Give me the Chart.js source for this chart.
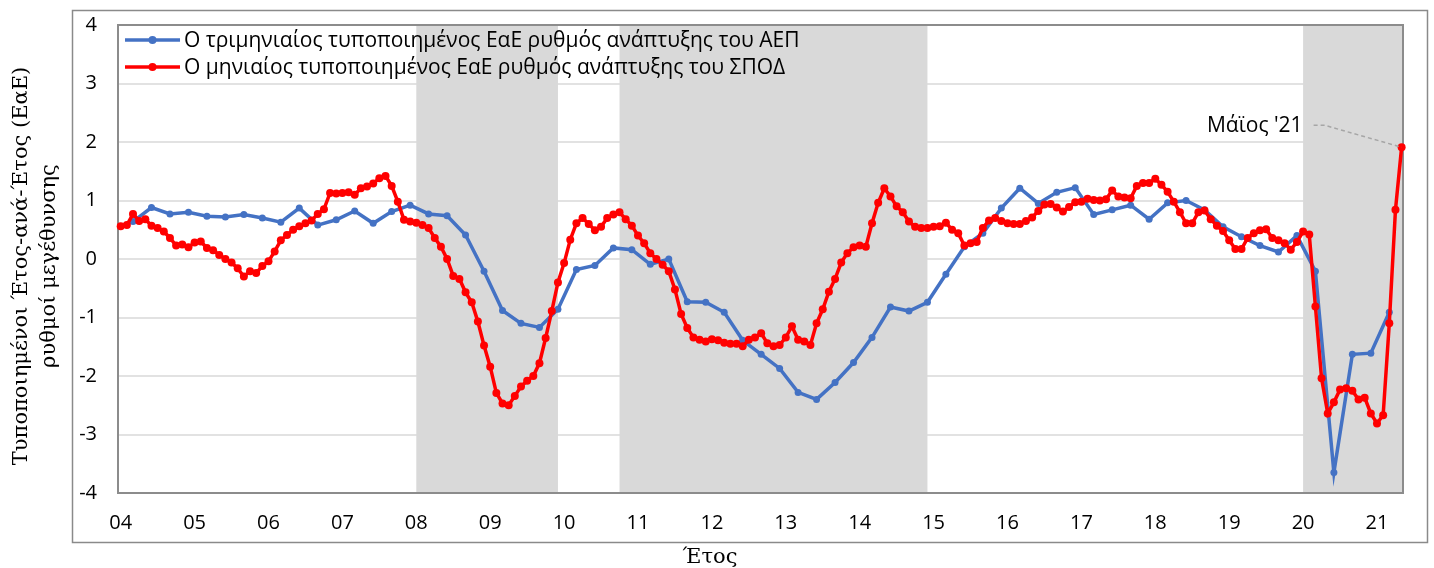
<!DOCTYPE html>
<html lang="el">
<head>
<meta charset="utf-8">
<title>Τυποποιημένοι ΕαΕ ρυθμοί μεγέθυνσης</title>
<script src="https://cdn.jsdelivr.net/npm/chart.js@4.4.1/dist/chart.umd.min.js"></script>
<style>
  html, body { margin:0; padding:0; background:#fff; }
  #wrap { width:1434px; height:568px; }
</style>
</head>
<body>
<div id="wrap"><canvas id="growthChart" width="1434" height="568"></canvas></div>
<script>
/* ── Data ── */
const FIRST_YEAR = 2004;
const YEAR_LABELS = ['04','05','06','07','08','09','10','11','12','13','14','15','16','17','18','19','20','21'];

// quarterly GDP, standardised y/y (Q1 2004 .. Q1 2021), plotted at quarter-end month
const GDP_QUARTERLY = [
  0.64, 0.88, 0.77, 0.80,   0.73, 0.72, 0.76, 0.70,   0.63, 0.87, 0.58, 0.67,
  0.82, 0.61, 0.81, 0.92,   0.77, 0.74, 0.41,-0.21,  -0.88,-1.10,-1.17,-0.86,
 -0.18,-0.11, 0.19, 0.16,  -0.09, 0.00,-0.73,-0.74,  -0.91,-1.39,-1.63,-1.87,
 -2.28,-2.40,-2.11,-1.77,  -1.34,-0.82,-0.89,-0.74,  -0.26, 0.21, 0.44, 0.87,
  1.21, 0.95, 1.14, 1.22,   0.76, 0.84, 0.92, 0.68,   0.96, 1.00, 0.84, 0.55,
  0.38, 0.23, 0.12, 0.40,  -0.21,-3.65,-1.63,-1.61,  -0.91
];

// monthly PMI, standardised y/y (Jan 2004 .. May 2021)
const PMI_MONTHLY = [
  0.56, 0.58, 0.77, 0.65, 0.68, 0.57, 0.53, 0.47, 0.36, 0.23, 0.25, 0.20,
  0.28, 0.30, 0.19, 0.15, 0.07, 0.00,-0.06,-0.16,-0.30,-0.21,-0.24,-0.12,
 -0.04, 0.13, 0.32, 0.41, 0.50, 0.56, 0.61, 0.66, 0.77, 0.85, 1.13, 1.12,
  1.13, 1.14, 1.10, 1.21, 1.24, 1.29, 1.38, 1.42, 1.25, 0.98, 0.67, 0.64,
  0.62, 0.58, 0.53, 0.36, 0.21, 0.00,-0.29,-0.34,-0.57,-0.74,-1.07,-1.48,
 -1.84,-2.29,-2.47,-2.50,-2.34,-2.18,-2.08,-2.00,-1.78,-1.35,-0.89,-0.40,
 -0.07, 0.33, 0.61, 0.70, 0.60, 0.49, 0.55, 0.70, 0.76, 0.80, 0.68, 0.57,
  0.40, 0.27, 0.10, 0.00,-0.10,-0.21,-0.52,-0.94,-1.18,-1.34,-1.38,-1.41,
 -1.37,-1.39,-1.43,-1.45,-1.45,-1.49,-1.38,-1.34,-1.27,-1.44,-1.49,-1.47,
 -1.34,-1.15,-1.38,-1.41,-1.47,-1.10,-0.86,-0.56,-0.34,-0.06, 0.10, 0.20,
  0.23, 0.21, 0.61, 0.96, 1.21, 1.07, 0.90, 0.80, 0.64, 0.55, 0.53, 0.53,
  0.55, 0.56, 0.62, 0.50, 0.44, 0.23, 0.27, 0.29, 0.53, 0.66, 0.70, 0.65,
  0.61, 0.60, 0.60, 0.65, 0.71, 0.82, 0.93, 0.94, 0.88, 0.81, 0.89, 0.97,
  0.98, 1.03, 1.01, 1.00, 1.02, 1.17, 1.07, 1.05, 1.04, 1.25, 1.30, 1.30,
  1.37, 1.27, 1.15, 0.98, 0.80, 0.61, 0.61, 0.80, 0.83, 0.68, 0.57, 0.48,
  0.32, 0.17, 0.17, 0.36, 0.44, 0.49, 0.51, 0.36, 0.32, 0.27, 0.16, 0.29,
  0.47, 0.42,-0.81,-2.04,-2.64,-2.45,-2.23,-2.21,-2.25,-2.40,-2.37,-2.64,
 -2.81,-2.67,-1.10, 0.84, 1.91
];

// shaded periods (fractional years)
const RECESSIONS = [[2008.0, 2009.917], [2010.75, 2014.917], [2020.0, 2021.5]];

const SERIES_NAMES = [
  'Ο τριμηνιαίος τυποποιημένος ΕαΕ ρυθμός ανάπτυξης του ΑΕΠ',
  'Ο μηνιαίος τυποποιημένος ΕαΕ ρυθμός ανάπτυξης του ΣΠΟΔ'
];
const LAST_LABEL = "Μάϊος '21";
const Y_TITLE = ['Τυποποιημένοι Έτος-ανά-Έτος (ΕαΕ)', 'ρυθμοί μεγέθυνσης'];
const X_TITLE = 'Έτος';

const X_MIN = 2003.9635, X_MAX = 2021.352;
const SANS = '"Open Sans", "Noto Sans", sans-serif';
const SERIF = '"DejaVu Serif", "Liberation Serif", serif';

const gdpPoints = GDP_QUARTERLY.map((v, i) => ({ x: FIRST_YEAR + (i * 3 + 2) / 12, y: v }));
const pmiPoints = PMI_MONTHLY.map((v, i) => ({ x: FIRST_YEAR + i / 12, y: v }));

/* ── Plugins ── */
const framePlugin = {
  id: 'frame',
  beforeDraw(chart) {
    const c = chart.ctx;
    c.save();
    c.fillStyle = '#fff';
    c.fillRect(0, 0, chart.width, chart.height);
    c.strokeStyle = '#8a8a8a';
    c.lineWidth = 1.5;
    c.strokeRect(72.5, 10.5, 1355, 532);
    c.restore();
  }
};

const shadingPlugin = {
  id: 'shading',
  beforeDatasetsDraw(chart) {
    const { ctx, chartArea: a, scales: { x } } = chart;
    ctx.save();
    ctx.fillStyle = '#d9d9d9';
    RECESSIONS.forEach(([s, e]) => {
      const x0 = Math.max(a.left, x.getPixelForValue(s));
      const x1 = Math.min(a.right, x.getPixelForValue(e));
      ctx.fillRect(x0, a.top, x1 - x0, a.bottom - a.top);
    });
    ctx.strokeStyle = '#8c8c8c';
    ctx.lineWidth = 2;
    ctx.strokeRect(a.left, a.top, a.right - a.left, a.bottom - a.top);
    ctx.restore();
  }
};

const overlayPlugin = {
  id: 'overlay',
  afterDraw(chart) {
    const { ctx, chartArea: a } = chart;
    ctx.save();

    // legend inside the plot
    chart.data.datasets.forEach((ds, i) => {
      const y = a.top + 15 + i * 27;
      const x0 = a.left + 7;
      ctx.strokeStyle = ds.borderColor;
      ctx.lineWidth = 3.5;
      ctx.beginPath(); ctx.moveTo(x0, y); ctx.lineTo(x0 + 55, y); ctx.stroke();
      ctx.fillStyle = ds.borderColor;
      ctx.beginPath(); ctx.arc(x0 + 27.5, y, 4, 0, Math.PI * 2); ctx.fill();
      ctx.fillStyle = '#000';
      ctx.font = '21px ' + SANS;
      ctx.textAlign = 'left';
      ctx.textBaseline = 'middle';
      ctx.fillText(ds.label, x0 + 59, y + 1);
    });

    // label for the last monthly point
    const meta = chart.getDatasetMeta(1);
    const last = meta.data[meta.data.length - 1];
    ctx.strokeStyle = '#a6a6a6';
    ctx.lineWidth = 1.5;
    ctx.setLineDash([4, 3]);
    ctx.beginPath();
    ctx.moveTo(last.x - 88, last.y - 22);
    ctx.lineTo(last.x - 77, last.y - 22);
    ctx.lineTo(last.x, last.y);
    ctx.stroke();
    ctx.setLineDash([]);
    ctx.fillStyle = '#000';
    ctx.font = '21px ' + SANS;
    ctx.textAlign = 'right';
    ctx.textBaseline = 'middle';
    ctx.fillText(LAST_LABEL, last.x - 99, last.y - 21);

    // axis titles
    ctx.font = '21px ' + SERIF;
    ctx.textAlign = 'center';
    ctx.textBaseline = 'middle';
    ctx.save();
    ctx.translate(22, 266);
    ctx.rotate(-Math.PI / 2);
    ctx.fillText(Y_TITLE[0], 0, 0);
    ctx.fillText(Y_TITLE[1], 0, 28);
    ctx.restore();
    ctx.fillText(X_TITLE, 710, 558);

    ctx.restore();
  }
};

/* ── Chart ── */
function buildGrowthChart() {
  const ctx = document.getElementById('growthChart').getContext('2d');
  return new Chart(ctx, {
    type: 'line',
    data: {
      datasets: [
        { label: SERIES_NAMES[0], data: gdpPoints, borderColor: '#4472C4', backgroundColor: '#4472C4',
          borderWidth: 3.5, pointRadius: 3.5, pointBorderWidth: 0, tension: 0, order: 1, clip: false },
        { label: SERIES_NAMES[1], data: pmiPoints, borderColor: '#FF0000', backgroundColor: '#FF0000',
          borderWidth: 3.5, pointRadius: 4, pointBorderWidth: 0, tension: 0, order: 0, clip: false }
      ]
    },
    options: {
      responsive: false, animation: false, devicePixelRatio: 1,
      layout: { padding: { left: 0, right: 31, top: 25, bottom: 0 } },
      plugins: { legend: { display: false }, tooltip: { enabled: false } },
      scales: {
        x: {
          type: 'linear', min: X_MIN, max: X_MAX,
          grid: { display: false, drawTicks: false }, border: { display: false },
          afterBuildTicks: s => { s.ticks = YEAR_LABELS.map((_, i) => ({ value: FIRST_YEAR + i })); },
          afterFit: s => { s.height = 75; },
          ticks: { autoSkip: false, maxRotation: 0, padding: 18, color: '#000',
                   font: { family: SANS, size: 20 },
                   callback: v => YEAR_LABELS[Math.round(v) - FIRST_YEAR] }
        },
        y: {
          min: -4, max: 4,
          afterFit: s => { s.width = 118; s.paddingTop = 0; s.paddingBottom = 0; },
          grid: { color: '#e2e2e2', lineWidth: 2, drawTicks: false }, border: { display: false },
          ticks: { stepSize: 1, padding: 21, color: '#000', font: { family: SANS, size: 20 } }
        }
      }
    },
    plugins: [framePlugin, shadingPlugin, overlayPlugin]
  });
}

window.addEventListener('DOMContentLoaded', buildGrowthChart);
</script>
</body>
</html>
